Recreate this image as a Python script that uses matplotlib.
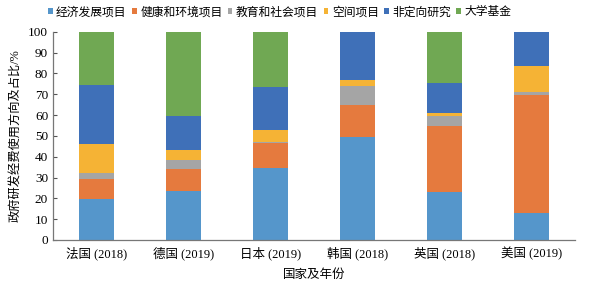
import matplotlib
matplotlib.use("Agg")
import matplotlib.pyplot as plt
import numpy as np

plt.rcParams['font.family'] = ['Liberation Serif', 'Noto Sans CJK SC']

categories = ["法国 (2018)", "德国 (2019)", "日本 (2019)", "韩国 (2018)", "英国 (2018)", "美国 (2019)"]
series_names = ["经济发展项目", "健康和环境项目", "教育和社会项目", "空间项目", "非定向研究", "大学基金"]
econ   = [19.5, 23.7, 34.6, 49.6, 23.2, 12.8]
health = [9.9, 10.2, 11.8, 15.1, 31.5, 56.7]
edu    = [2.9, 4.5, 0.6, 9.2, 5.0, 1.7]
space  = [13.8, 4.8, 5.8, 2.9, 1.4, 12.6]
nondir = [28.5, 16.3, 20.5, 23.2, 14.4, 16.2]
univ   = [25.4, 40.5, 26.7, 0.0, 24.5, 0.0]
series = [econ, health, edu, space, nondir, univ]
colors = ["#5596CB", "#E57A3E", "#A5A5A5", "#F5B335", "#3F70B8", "#70A853"]

fig = plt.figure(figsize=(5.89, 2.84), dpi=100)
ax = fig.add_axes([0.09, 0.155, 0.886, 0.733])

x = np.arange(len(categories))
bottom = np.zeros(len(categories))
handles = []
for name, vals, c in zip(series_names, series, colors):
    v = np.array(vals)
    b = ax.bar(x, v, 0.40, bottom=bottom, color=c, label=name)
    bottom += v
    handles.append(b)

ax.set_xlim(-0.5, len(categories) - 0.5)
ax.set_ylim(0, 100)
ax.set_yticks(range(0, 101, 10))
ax.set_xticks(x)
ax.set_xticklabels(categories, fontsize=9)
ax.tick_params(axis='y', direction='in', length=3, labelsize=9.5, color='#555555')
ax.tick_params(axis='x', length=0, pad=5)
for s in ['top', 'right']:
    ax.spines[s].set_visible(False)
for s in ['left', 'bottom']:
    ax.spines[s].set_color('#777777')
    ax.spines[s].set_linewidth(0.9)

ax.set_ylabel("政府研发经费使用方向及占比/%", fontsize=8.8)
ax.set_xlabel("国家及年份", fontsize=9, labelpad=6)

fig.legend(handles, series_names, loc='upper center', bbox_to_anchor=(0.475, 1.015),
           ncol=6, frameon=False, fontsize=8.5, handlelength=0.4, handleheight=0.4,
           handletextpad=0.3, columnspacing=0.45)

fig.savefig("out.png", dpi=100)
